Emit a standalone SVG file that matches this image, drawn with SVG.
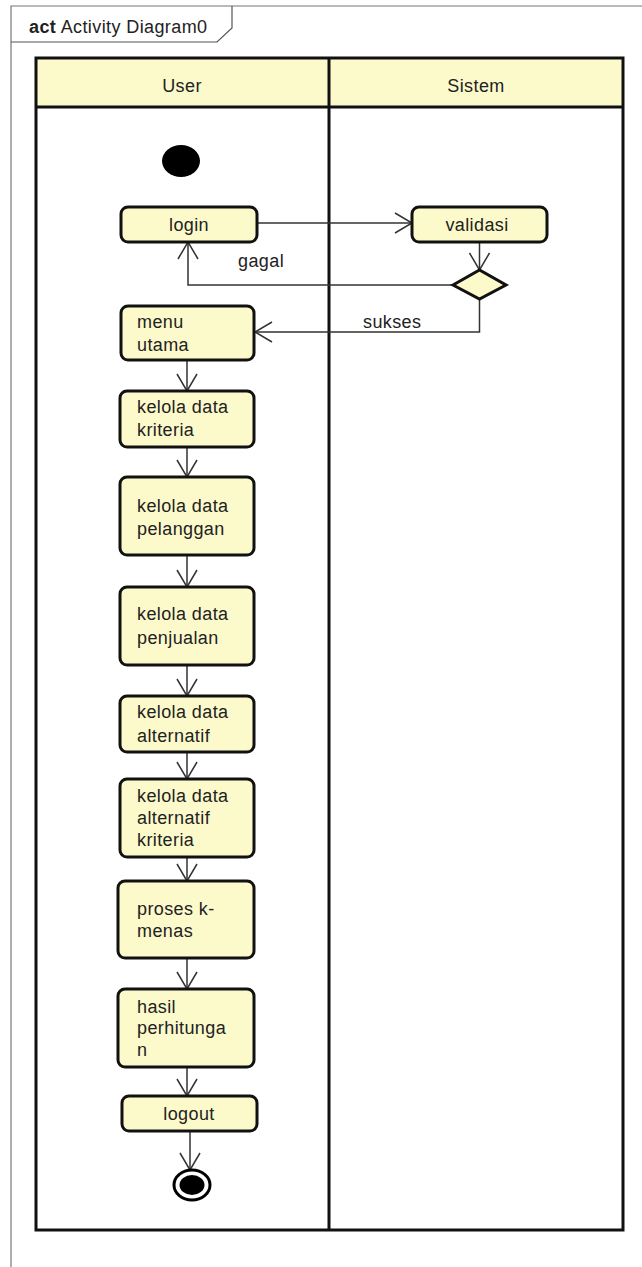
<svg xmlns="http://www.w3.org/2000/svg" width="642" height="1267" viewBox="0 0 642 1267">
<style>
.t{font-family:"Liberation Sans",Arial,sans-serif;font-size:18px;letter-spacing:0.4px;fill:#222;}
.c{text-anchor:middle;}
.node{fill:#FCFACB;stroke:#111;stroke-width:3;}
.lane{fill:none;stroke:#111;stroke-width:3;}
.flow{fill:none;stroke:#333;stroke-width:1.5;}
</style>
<defs>
<marker id="arr" markerUnits="userSpaceOnUse" markerWidth="20" markerHeight="24" viewBox="-18 -12 20 24" refX="0" refY="0" orient="auto">
<path d="M-17,-10 L0,0 L-17,10" fill="none" stroke="#333" stroke-width="1.5"/>
</marker>
</defs>
<rect width="642" height="1267" fill="#fff"/>
<g id="frame">
<path d="M11,1267 V6 H642" fill="none" stroke="#777" stroke-width="1.2"/>
<path d="M11,42 H217 L232,28 V6" fill="none" stroke="#555" stroke-width="1.2"/>
<text class="t" x="29" y="33"><tspan font-weight="bold">act</tspan> Activity Diagram0</text>
</g>
<g id="swimlanes">
<rect x="36" y="58" width="587" height="49" fill="#FCFACB"/>
<rect x="36" y="58" width="587" height="1172" class="lane"/>
<line x1="36" y1="107" x2="623" y2="107" class="lane"/>
<line x1="329" y1="58" x2="329" y2="1230" class="lane"/>
<text class="t c" x="182" y="92">User</text>
<text class="t c" x="476" y="92">Sistem</text>
</g>
<g id="connectors">
<line x1="257" y1="223" x2="412" y2="223" class="flow" marker-end="url(#arr)"/>
<line x1="479.5" y1="242" x2="479.5" y2="270" class="flow" marker-end="url(#arr)"/>
<polyline points="453,285 188,285 188,242" class="flow" marker-end="url(#arr)"/>
<polyline points="479.5,299 479.5,332 255,332" class="flow" marker-end="url(#arr)"/>
<line x1="187" y1="360" x2="187" y2="391" class="flow" marker-end="url(#arr)"/>
<line x1="187" y1="447" x2="187" y2="477" class="flow" marker-end="url(#arr)"/>
<line x1="187" y1="555" x2="187" y2="587" class="flow" marker-end="url(#arr)"/>
<line x1="187" y1="665" x2="187" y2="696" class="flow" marker-end="url(#arr)"/>
<line x1="187" y1="752" x2="187" y2="779" class="flow" marker-end="url(#arr)"/>
<line x1="187" y1="857" x2="187" y2="881" class="flow" marker-end="url(#arr)"/>
<line x1="187" y1="958" x2="187" y2="989" class="flow" marker-end="url(#arr)"/>
<line x1="187" y1="1067" x2="187" y2="1096" class="flow" marker-end="url(#arr)"/>
<line x1="190" y1="1131" x2="190" y2="1170" class="flow" marker-end="url(#arr)"/>
<text class="t" x="238" y="267">gagal</text>
<text class="t" x="363" y="328">sukses</text>
</g>
<g id="start">
<ellipse cx="181" cy="161" rx="19" ry="16" fill="#000"/>
</g>
<g id="login">
<rect x="121" y="207" width="136" height="35" rx="7" class="node"/>
<text class="t c" x="189" y="231">login</text>
</g>
<g id="validasi">
<rect x="412" y="207" width="135" height="35" rx="7" class="node"/>
<text class="t c" x="477" y="231">validasi</text>
</g>
<g id="decision">
<polygon points="453,285 479.5,270 506,285 479.5,299" class="node"/>
</g>
<g id="menu_utama">
<rect x="121" y="306" width="133" height="54" rx="7" class="node"/>
<text class="t" x="137" y="328">menu</text>
<text class="t" x="137" y="351">utama</text>
</g>
<g id="kelola_kriteria">
<rect x="120" y="391" width="134" height="56" rx="7" class="node"/>
<text class="t" x="137" y="413">kelola data</text>
<text class="t" x="137" y="436">kriteria</text>
</g>
<g id="kelola_pelanggan">
<rect x="120" y="477" width="134" height="78" rx="7" class="node"/>
<text class="t" x="137" y="512">kelola data</text>
<text class="t" x="137" y="535">pelanggan</text>
</g>
<g id="kelola_penjualan">
<rect x="120" y="587" width="134" height="78" rx="7" class="node"/>
<text class="t" x="137" y="620">kelola data</text>
<text class="t" x="137" y="644">penjualan</text>
</g>
<g id="kelola_alternatif">
<rect x="120" y="696" width="134" height="56" rx="7" class="node"/>
<text class="t" x="137" y="718">kelola data</text>
<text class="t" x="137" y="742">alternatif</text>
</g>
<g id="kelola_alternatif_kriteria">
<rect x="120" y="779" width="134" height="78" rx="7" class="node"/>
<text class="t" x="137" y="802">kelola data</text>
<text class="t" x="137" y="824">alternatif</text>
<text class="t" x="137" y="846">kriteria</text>
</g>
<g id="proses_kmenas">
<rect x="118" y="881" width="136" height="77" rx="7" class="node"/>
<text class="t" x="137" y="915">proses k-</text>
<text class="t" x="137" y="937">menas</text>
</g>
<g id="hasil_perhitungan">
<rect x="118" y="989" width="136" height="78" rx="7" class="node"/>
<text class="t" x="137" y="1013">hasil</text>
<text class="t" x="137" y="1034">perhitunga</text>
<text class="t" x="137" y="1056">n</text>
</g>
<g id="logout">
<rect x="122" y="1096" width="135" height="35" rx="7" class="node"/>
<text class="t c" x="189" y="1120">logout</text>
</g>
<g id="end">
<ellipse cx="192" cy="1185" rx="18" ry="15" fill="#fff" stroke="#000" stroke-width="3"/>
<ellipse cx="192" cy="1185" rx="12.5" ry="10" fill="#000"/>
</g>
</svg>
